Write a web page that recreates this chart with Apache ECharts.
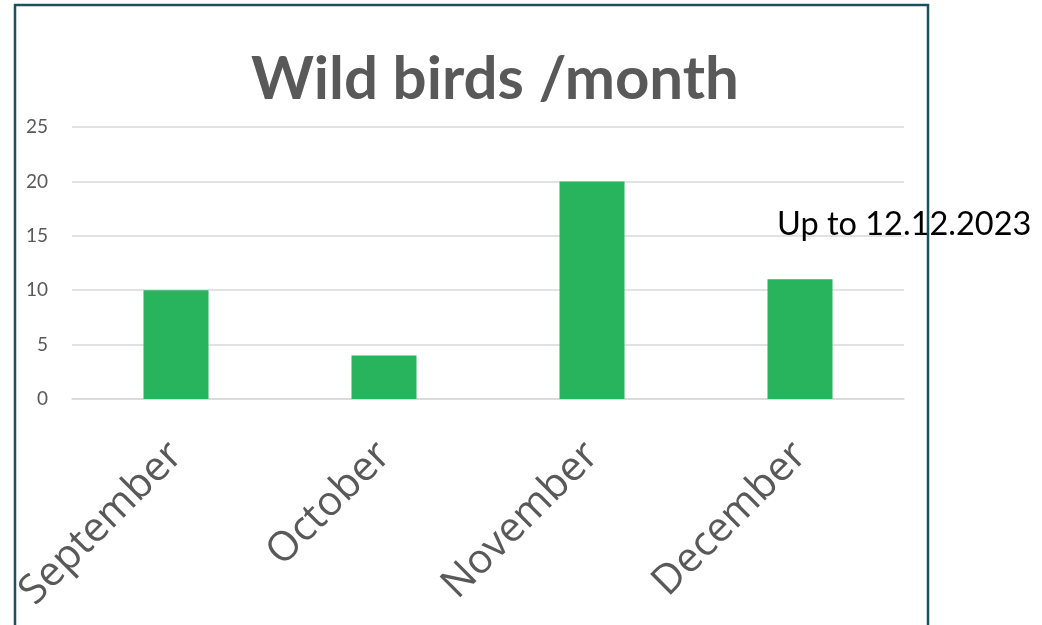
<!DOCTYPE html>
<html><head><meta charset="utf-8">
<script src="https://cdn.jsdelivr.net/npm/echarts@6/dist/echarts.min.js"></script>
<style>html,body{margin:0;padding:0;background:#fff}#c{width:1042px;height:625px}</style>
</head><body><div id="c"></div>
<script>
const categories = ['September', 'October', 'November', 'December'];
const birds = [10, 4, 20, 11];
const titleText = 'Wild birds /month';
const noteText = 'Up to 12.12.2023';

const chart = echarts.init(document.getElementById('c'));
chart.setOption({
  backgroundColor: '#fff',
  animation: false,
  title: {
    text: titleText, left: 490, top: 45, textAlign: 'center',
    textStyle: { fontFamily: 'Lato', fontWeight: 'bold', fontSize: 60, color: '#595959' }
  },
  grid: { left: 72, right: 138, top: 127, bottom: 226 },
  xAxis: {
    type: 'category', data: categories,
    axisLine: { lineStyle: { color: '#d9d9d9', width: 1.5 } },
    axisTick: { show: false },
    axisLabel: { rotate: 45, margin: 50, fontSize: 41, fontFamily: 'Open Sans', color: '#595959' }
  },
  yAxis: {
    type: 'value', min: 0, max: 25, interval: 5,
    axisLine: { show: false }, axisTick: { show: false },
    splitLine: { lineStyle: { color: '#d9d9d9', width: 1.5 } },
    axisLabel: { margin: 24, fontSize: 19, fontFamily: 'Lato', color: '#595959' }
  },
  series: [{
    type: 'bar', data: birds, barWidth: 65,
    itemStyle: { color: '#28b35d' }
  }],
  graphic: [
    { type: 'text', left: 777, top: 208, z: 5,
      style: { text: noteText, fontSize: 32.5, fontFamily: 'Lato', fill: '#000' } },
    { type: 'rect', z: 10, shape: { x: 15, y: 5, width: 913, height: 700 },
      style: { fill: 'none', stroke: '#1d4f60', lineWidth: 2.5 } }
  ]
});
</script></body></html>
